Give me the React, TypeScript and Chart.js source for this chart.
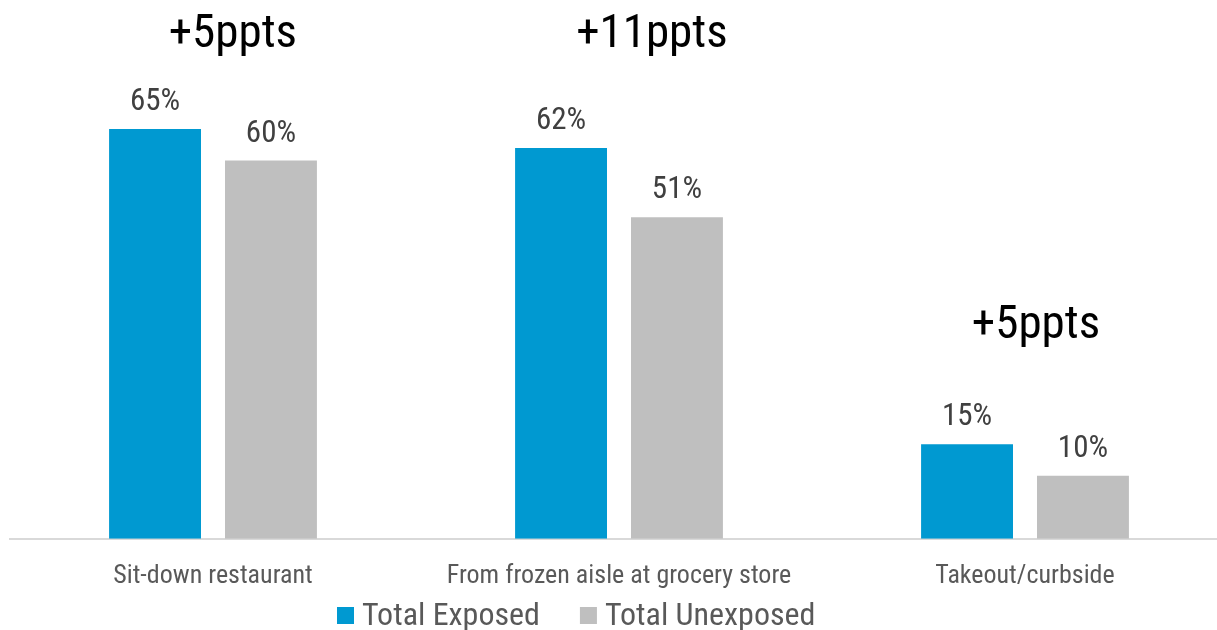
import React, { useEffect, useRef } from "react";
import { Chart, registerables } from "chart.js";

Chart.register(...registerables);

const categories = ["Sit-down restaurant", "From frozen aisle at grocery store", "Takeout/curbside"];
const seriesNames = ["Total Exposed", "Total Unexposed"];
const exposedValues = [65, 62, 15];
const unexposedValues = [60, 51, 10];
const seriesColors = ["#0099D1", "#BFBFBF"];
const diffLabels = ["+5ppts", "+11ppts", "+5ppts"];
const diffLabelLevels = [78, 78, 31.8];
const diffLabelShift = [0.049, 0.081, 0.027];

const FONT = "'Roboto Condensed', Roboto, sans-serif";

const labelsPlugin = {
  id: "valueLabels",
  afterDatasetsDraw(chart: any) {
    const ctx = chart.ctx;
    ctx.save();
    ctx.font = `31px ${FONT}`;
    ctx.fillStyle = "#404040";
    ctx.textAlign = "center";
    ctx.textBaseline = "alphabetic";
    chart.data.datasets.forEach((ds: any, di: number) => {
      const meta = chart.getDatasetMeta(di);
      meta.data.forEach((el: any, i: number) => {
        ctx.fillText(ds.data[i] + "%", el.x, el.y - 19);
      });
    });
    const xs = chart.scales.x;
    const ys = chart.scales.y;
    const step = xs.getPixelForValue(1) - xs.getPixelForValue(0);
    ctx.font = `47px ${FONT}`;
    ctx.fillStyle = "#000000";
    diffLabels.forEach((t, i) => {
      const x = xs.getPixelForValue(i) + diffLabelShift[i] * step;
      const y = ys.getPixelForValue(diffLabelLevels[i]);
      ctx.fillText(t, x, y);
    });
    ctx.restore();
  },
};

const legendPlugin = {
  id: "customLegend",
  afterDraw(chart: any) {
    const ctx = chart.ctx;
    ctx.save();
    ctx.font = `32px ${FONT}`;
    ctx.textAlign = "left";
    ctx.textBaseline = "alphabetic";
    const baseline = chart.height - 5;
    let x = 337;
    chart.data.datasets.forEach((ds: any) => {
      ctx.fillStyle = ds.backgroundColor;
      ctx.fillRect(x, baseline - 18, 17, 17);
      x += 17 + 8;
      ctx.fillStyle = "#595959";
      ctx.fillText(ds.label, x, baseline);
      x += ctx.measureText(ds.label).width + 40;
    });
    ctx.restore();
  },
};

export default function App() {
  const ref = useRef<HTMLCanvasElement>(null);
  useEffect(() => {
    if (!ref.current) return;
    const chart = new Chart(ref.current, {
      type: "bar",
      data: {
        labels: categories,
        datasets: [
          { label: seriesNames[0], data: exposedValues, backgroundColor: seriesColors[0] },
          { label: seriesNames[1], data: unexposedValues, backgroundColor: seriesColors[1] },
        ],
      },
      options: {
        animation: false,
        responsive: false,
        maintainAspectRatio: false,
        layout: { padding: { left: 10, right: 0, top: 3, bottom: 16 } },
        datasets: { bar: { barPercentage: 0.793, categoryPercentage: 0.571 } },
        scales: {
          x: {
            grid: { display: false, drawTicks: false },
            border: { display: true, color: "#D9D9D9", width: 2 },
            ticks: { color: "#595959", font: { family: FONT, size: 26 }, padding: 22 },
          },
          y: {
            display: false,
            min: 0,
            max: 85,
          },
        },
        plugins: {
          legend: { display: false },
          tooltip: { enabled: false },
        },
      },
      plugins: [labelsPlugin, legendPlugin],
    });
    return () => chart.destroy();
  }, []);
  return (
    <div style={{ position: "fixed", left: 0, top: 0, width: 1217, height: 630, overflow: "hidden", background: "#fff" }}>
      <canvas ref={ref} width={1228} height={630} style={{ display: "block" }} />
    </div>
  );
}
